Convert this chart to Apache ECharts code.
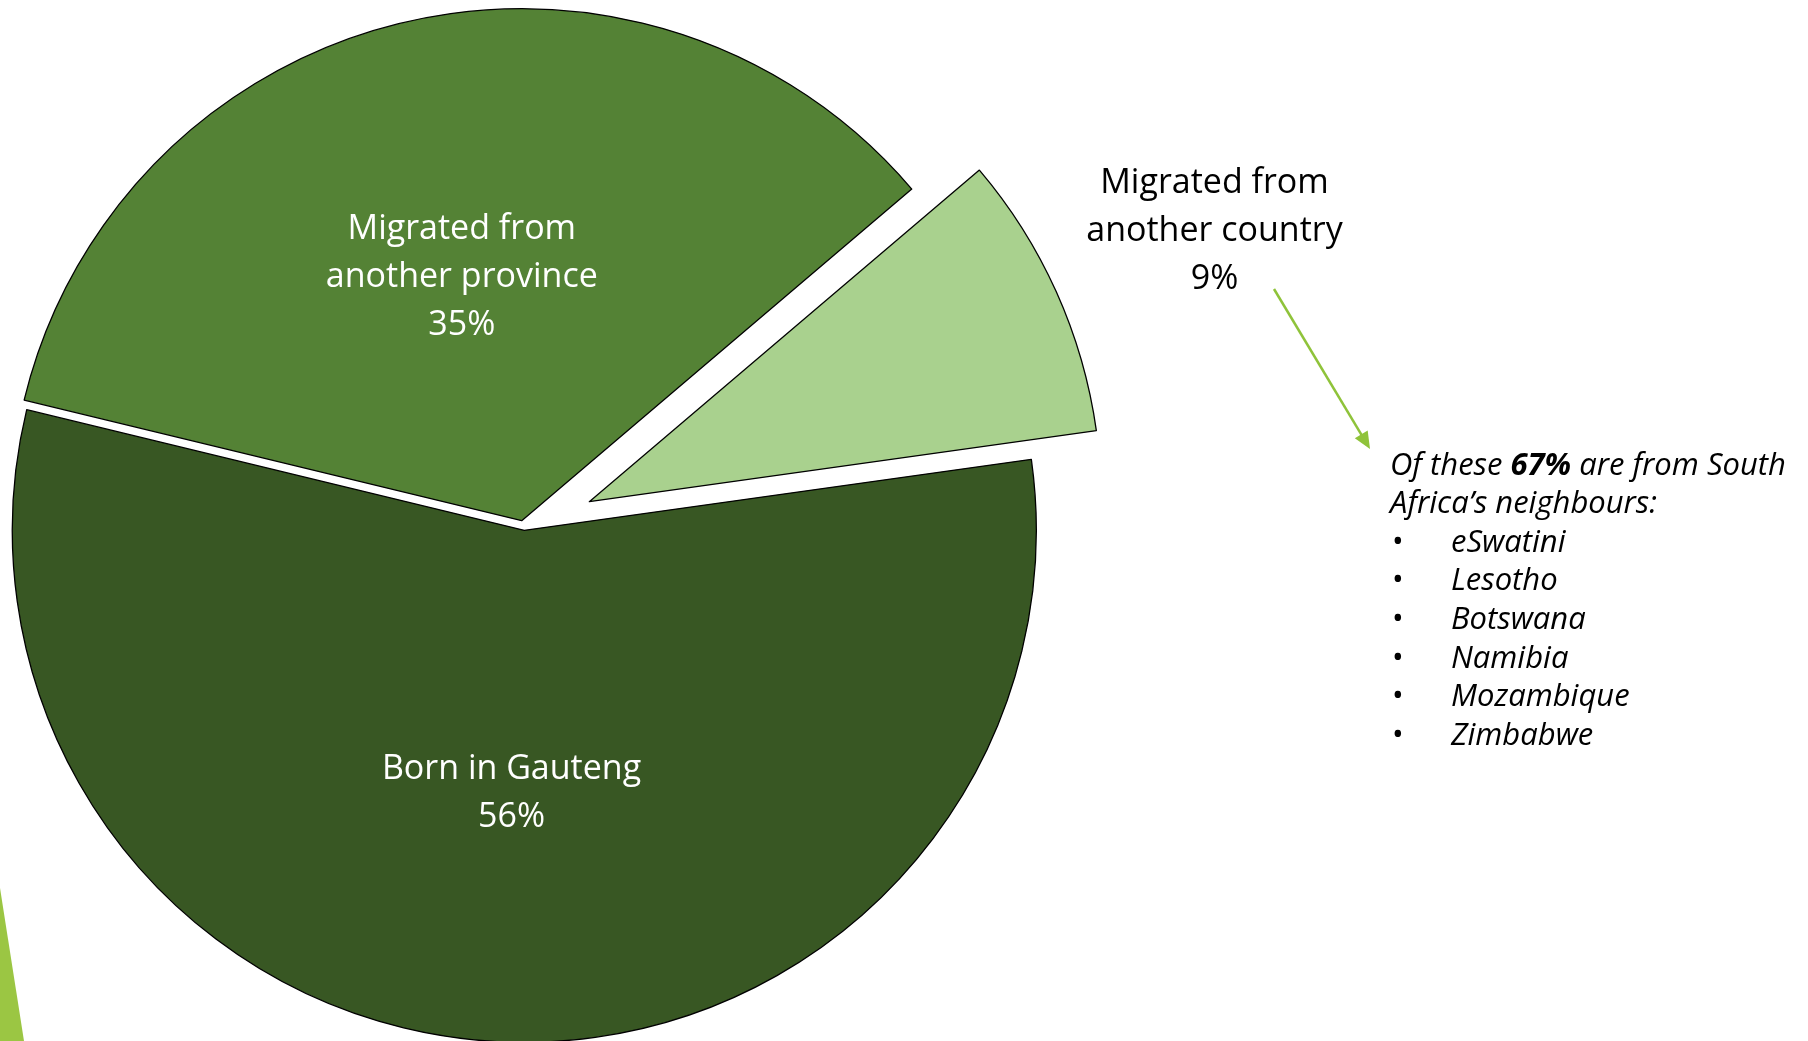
<!DOCTYPE html>
<html>
<head>
<meta charset="utf-8">
<script src="https://cdn.jsdelivr.net/npm/echarts@6/dist/echarts.min.js"></script>
<style>
html,body{margin:0;padding:0;background:#fff;}
#chart{width:1808px;height:1041px;}
</style>
</head>
<body>
<div id="chart"></div>
<script>
// ---- data ----
const categories = ['Born in Gauteng', 'Migrated from\nanother province', 'Migrated from\nanother country'];
const values = [56, 35, 9];
const noteIntro = ['Of these {b|67%} are from South', 'Africa\u2019s neighbours:'];
const neighbours = ['eSwatini', 'Lesotho', 'Botswana', 'Namibia', 'Mozambique', 'Zimbabwe'];

// ---- style / layout ----
const colors = ['#385723', '#548235', '#A9D18E'];
const centers = [[524.3, 530.3], [521.7, 520.7], [589.3, 501.7]]; // exploded slice centres
const labelShift = [[0, 4], [0, 9], [3, 9]];
const R = 512;
const START = 7.97;
const FONT = '"Open Sans", "Noto Sans", sans-serif';
const NOTE_SIZE = 31;

const chart = echarts.init(document.getElementById('chart'), null, {renderer: 'canvas'});

const series = categories.map((c, i) => ({
  type: 'pie',
  silent: true,
  animation: false,
  avoidLabelOverlap: false,
  center: centers[i],
  radius: R,
  startAngle: START,
  clockwise: true,
  emphasis: {disabled: true},
  labelLayout: function () {
    const o = {dx: labelShift[i][0], dy: labelShift[i][1]};
    if (i === 2) o.align = 'center';
    return o;
  },
  data: values.map((v, j) => ({
    name: categories[j],
    value: v,
    itemStyle: j === i
      ? {color: colors[j], borderColor: '#000', borderWidth: 1.3}
      : {color: 'rgba(0,0,0,0)', borderWidth: 0},
    label: {
      show: j === i,
      position: j === 2 ? 'outside' : 'inside',
      formatter: '{b}\n{d}%',
      color: j === 2 ? '#000' : '#fff',
      fontFamily: FONT,
      fontSize: 34,
      lineHeight: 48,
      align: 'center',
      distanceToLabelLine: 0
    },
    labelLine: {show: false, length: 170, length2: 0}
  }))
}));

// annotation text
const graphics = [];
const lineStep = 38.55;
const y0 = 466;
noteIntro.forEach((t, k) => {
  graphics.push({
    type: 'text', silent: true,
    style: {
      x: 1390, y: y0 + k * lineStep, text: t,
      fontFamily: FONT, fontSize: NOTE_SIZE, fontStyle: 'italic', fill: '#000',
      verticalAlign: 'middle', align: 'left',
      rich: {b: {fontFamily: FONT, fontSize: NOTE_SIZE, fontStyle: 'italic', fontWeight: 'bold', fill: '#000'}}
    }
  });
});
neighbours.forEach((t, k) => {
  const yy = y0 + (k + 2) * lineStep;
  graphics.push({
    type: 'text', silent: true,
    style: {x: 1392, y: yy, text: '\u2022', fontFamily: FONT, fontSize: NOTE_SIZE, fill: '#000', verticalAlign: 'middle', align: 'left'}
  });
  graphics.push({
    type: 'text', silent: true,
    style: {x: 1451, y: yy, text: t, fontFamily: FONT, fontSize: NOTE_SIZE, fontStyle: 'italic', fill: '#000', verticalAlign: 'middle', align: 'left'}
  });
});

// arrow
const a0 = [1274, 289], tip = [1370, 449];
const dx = tip[0] - a0[0], dy = tip[1] - a0[1], L = Math.hypot(dx, dy);
const ux = dx / L, uy = dy / L, px = -uy, py = ux;
const hl = 17, hw = 7.5;
const base = [tip[0] - ux * hl, tip[1] - uy * hl];
graphics.push({
  type: 'line', silent: true,
  shape: {x1: a0[0], y1: a0[1], x2: base[0] + ux * 2, y2: base[1] + uy * 2},
  style: {stroke: '#8FC33A', lineWidth: 2.5}
});
graphics.push({
  type: 'polygon', silent: true,
  shape: {points: [tip, [base[0] + px * hw, base[1] + py * hw], [base[0] - px * hw, base[1] - py * hw]]},
  style: {fill: '#8FC33A'}
});
// decorative sliver bottom-left
graphics.push({
  type: 'polygon', silent: true,
  shape: {points: [[0, 888], [24, 1041], [0, 1041]]},
  style: {fill: '#9BC643'}
});

chart.setOption({
  backgroundColor: '#fff',
  animation: false,
  series: series,
  graphic: graphics
});
</script>
</body>
</html>
